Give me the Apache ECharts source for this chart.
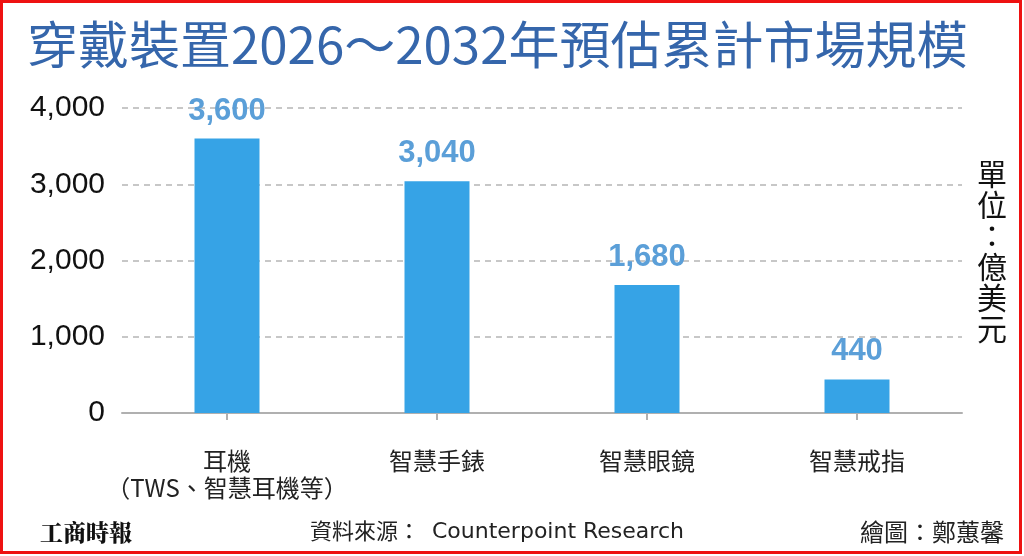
<!DOCTYPE html>
<html>
<head>
<meta charset="utf-8">
<style>
html,body{margin:0;padding:0;background:#fff;}
#c{width:1024px;height:556px;}
</style>
<script src="https://cdn.jsdelivr.net/npm/echarts@6/dist/echarts.min.js"></script>
</head>
<body>
<div id="c"></div>
<script>
const categories = ['耳機\n（TWS、智慧耳機等）', '智慧手錶', '智慧眼鏡', '智慧戒指'];
const values = [3600, 3040, 1680, 440];
const yTicks = [0, 1000, 2000, 3000, 4000];

const titleText = '穿戴裝置2026～2032年預估累計市場規模';
const unitText = '單位：億美元';
const sourceLabel = '資料來源：';
const sourceName = 'Counterpoint Research';
const creditText = '繪圖：鄭蕙馨';
const logoText = '工商時報';

const fmt = v => Number(v).toLocaleString('en-US');
const CJK = '"Noto Sans CJK TC", "Noto Sans CJK SC", sans-serif';

const chart = echarts.init(document.getElementById('c'));
chart.setOption({
  backgroundColor: '#ffffff',
  animation: false,
  grid: { left: 122, right: 62, top: 108, bottom: 143 },
  xAxis: {
    type: 'category',
    data: categories,
    axisLine: { show: true, lineStyle: { color: '#b0b0b0', width: 2 } },
    axisTick: { show: true, alignWithLabel: true, length: 7, lineStyle: { color: '#b0b0b0', width: 2 } },
    axisLabel: {
      margin: 34,
      color: '#222222',
      fontFamily: CJK,
      fontSize: 24,
      lineHeight: 27,
      interval: 0
    }
  },
  yAxis: {
    type: 'value',
    min: yTicks[0],
    max: yTicks[yTicks.length - 1],
    interval: 1000,
    axisLine: { show: false },
    axisTick: { show: false },
    axisLabel: {
      margin: 17,
      color: '#111111',
      fontFamily: '"Liberation Sans", Arial, sans-serif',
      fontSize: 30,
      formatter: fmt
    },
    splitLine: { show: true, lineStyle: { color: '#b5b5b5', type: [6, 5], width: 1.5 } }
  },
  series: [{
    type: 'bar',
    data: values,
    barWidth: 65,
    itemStyle: { color: '#36a3e6' },
    label: {
      show: true,
      position: 'top',
      distance: 12,
      color: '#5b9fd8',
      fontFamily: '"Liberation Sans", Arial, sans-serif',
      fontWeight: 'bold',
      fontSize: 31,
      formatter: p => fmt(p.value)
    }
  }],
  graphic: [
    {
      type: 'rect', silent: true, z: 100,
      shape: { x: 1.5, y: 1.5, width: 1019, height: 551 },
      style: { fill: 'none', stroke: '#ee1111', lineWidth: 3 }
    },
    {
      type: 'text', left: 27, top: 19, z: 10,
      style: { text: titleText, fill: '#3566ab', fontFamily: CJK, fontSize: 51, fontWeight: 400 }
    },
    {
      type: 'text', x: 992, y: 158, z: 10,
      style: {
        text: unitText.split('').join('\n'),
        fill: '#111111', fontFamily: CJK, fontSize: 30, lineHeight: 31,
        align: 'center', verticalAlign: 'top'
      }
    },
    {
      type: 'text', x: 40, y: 532, z: 10,
      style: { text: logoText, fill: '#111111', fontFamily: '"Noto Serif CJK TC", ' + CJK, fontSize: 23, fontWeight: 900, verticalAlign: 'middle' }
    },
    {
      type: 'text', x: 310, y: 531, z: 10,
      style: { text: sourceLabel, fill: '#222222', fontFamily: CJK, fontSize: 22, verticalAlign: 'middle' }
    },
    {
      type: 'text', x: 432, y: 532, z: 10,
      style: { text: sourceName, fill: '#222222', fontFamily: '"DejaVu Sans", sans-serif', fontSize: 22, verticalAlign: 'middle' }
    },
    {
      type: 'text', x: 1004, y: 532, z: 10,
      style: { text: creditText, fill: '#222222', fontFamily: CJK, fontSize: 24, align: 'right', verticalAlign: 'middle' }
    }
  ]
});
</script>
</body>
</html>
